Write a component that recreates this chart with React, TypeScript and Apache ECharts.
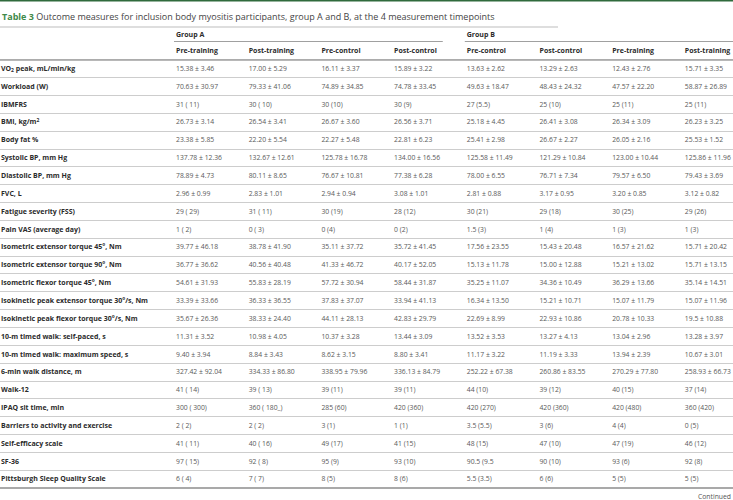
import React, { useEffect, useRef } from "react";
import * as echarts from "echarts";

const FONT = "'Open Sans', 'Noto Sans', sans-serif";

const titleLead = "Table 3";
const titleText = "Outcome measures for inclusion body myositis participants, group A and B, at the 4 measurement timepoints";
const groupLabels = ["Group A", "Group B"];
const columnHeaders = ["Pre-training", "Post-training", "Pre-control", "Post-control", "Pre-control", "Post-control", "Pre-training", "Post-training"];

const rowLabels = [
  "VO{sub|2} peak, mL/min/kg", "Workload (W)", "IBMFRS", "BMI, kg/m{sup|2}", "Body fat %",
  "Systolic BP, mm Hg", "Diastolic BP, mm Hg", "FVC, L", "Fatigue severity (FSS)", "Pain VAS (average day)",
  "Isometric extensor torque 45°, Nm", "Isometric extensor torque 90°, Nm", "Isometric flexor torque 45°, Nm",
  "Isokinetic peak extensor torque 30°/s, Nm", "Isokinetic peak flexor torque 30°/s, Nm",
  "10-m timed walk: self-paced, s", "10-m timed walk: maximum speed, s", "6-min walk distance, m", "Walk-12",
  "IPAQ sit time, min", "Barriers to activity and exercise", "Self-efficacy scale", "SF-36", "Pittsburgh Sleep Quality Scale",
];

const groupAPreTraining = ["15.38 ± 3.46", "70.63 ± 30.97", "31 ( 11)", "26.73 ± 3.14", "23.38 ± 5.85", "137.78 ± 12.36", "78.89 ± 4.73", "2.96 ± 0.99", "29 ( 29)", "1 ( 2)", "39.77 ± 46.18", "36.77 ± 36.62", "54.61 ± 31.93", "33.39 ± 33.66", "35.67 ± 26.36", "11.31 ± 3.52", "9.40 ± 3.94", "327.42 ± 92.04", "41 ( 14)", "300 ( 300)", "2 ( 2)", "41 ( 11)", "97 ( 15)", "6 ( 4)"];
const groupAPostTraining = ["17.00 ± 5.29", "79.33 ± 41.06", "30 ( 10)", "26.54 ± 3.41", "22.20 ± 5.54", "132.67 ± 12.61", "80.11 ± 8.65", "2.83 ± 1.01", "31 ( 11)", "0 ( 3)", "38.78 ± 41.90", "40.56 ± 40.48", "55.83 ± 28.19", "36.33 ± 36.55", "38.33 ± 24.40", "10.98 ± 4.05", "8.84 ± 3.43", "334.33 ± 86.80", "39 ( 13)", "360 ( 180_)", "2 ( 2)", "40 ( 16)", "92 ( 8)", "7 ( 7)"];
const groupAPreControl = ["16.11 ± 3.37", "74.89 ± 34.85", "30 (10)", "26.67 ± 3.60", "22.27 ± 5.48", "125.78 ± 16.78", "76.67 ± 10.81", "2.94 ± 0.94", "30 (19)", "0 (4)", "35.11 ± 37.72", "41.33 ± 46.72", "57.72 ± 30.94", "37.83 ± 37.07", "44.11 ± 28.13", "10.37 ± 3.28", "8.62 ± 3.15", "338.95 ± 79.96", "39 (11)", "285 (60)", "3 (1)", "49 (17)", "95 (9)", "8 (5)"];
const groupAPostControl = ["15.89 ± 3.22", "74.78 ± 33.45", "30 (9)", "26.56 ± 3.71", "22.81 ± 6.23", "134.00 ± 16.56", "77.38 ± 6.28", "3.08 ± 1.01", "28 (12)", "0 (2)", "35.72 ± 41.45", "40.17 ± 52.05", "58.44 ± 31.87", "33.94 ± 41.13", "42.83 ± 29.79", "13.44 ± 3.09", "8.80 ± 3.41", "336.13 ± 84.79", "39 (11)", "420 (360)", "1 (1)", "41 (15)", "93 (10)", "8 (6)"];
const groupBPreControl = ["13.63 ± 2.62", "49.63 ± 18.47", "27 (5.5)", "25.18 ± 4.45", "25.41 ± 2.98", "125.58 ± 11.49", "78.00 ± 6.55", "2.81 ± 0.88", "30 (21)", "1.5 (3)", "17.56 ± 23.55", "15.13 ± 11.78", "35.25 ± 11.07", "16.34 ± 13.50", "22.69 ± 8.99", "13.52 ± 3.53", "11.17 ± 3.22", "252.22 ± 67.38", "44 (10)", "420 (270)", "3.5 (5.5)", "48 (15)", "90.5 (9.5", "5.5 (3.5)"];
const groupBPostControl = ["13.29 ± 2.63", "48.43 ± 24.32", "25 (10)", "26.41 ± 3.08", "26.67 ± 2.27", "121.29 ± 10.84", "76.71 ± 7.34", "3.17 ± 0.95", "29 (18)", "1 (4)", "15.43 ± 20.48", "15.00 ± 12.88", "34.36 ± 10.49", "15.21 ± 10.71", "22.93 ± 10.86", "13.27 ± 4.13", "11.19 ± 3.33", "260.86 ± 83.55", "39 (12)", "420 (360)", "3 (6)", "47 (10)", "90 (10)", "6 (6)"];
const groupBPreTraining = ["12.43 ± 2.76", "47.57 ± 22.20", "25 (11)", "26.34 ± 3.09", "26.05 ± 2.16", "123.00 ± 10.44", "79.57 ± 6.50", "3.20 ± 0.85", "30 (25)", "1 (3)", "16.57 ± 21.62", "15.21 ± 13.02", "36.29 ± 13.66", "15.07 ± 11.79", "20.78 ± 10.33", "13.04 ± 2.96", "13.94 ± 2.39", "270.29 ± 77.80", "40 (15)", "420 (480)", "4 (4)", "47 (19)", "93 (6)", "5 (5)"];
const groupBPostTraining = ["15.71 ± 3.35", "58.87 ± 26.89", "25 (11)", "26.23 ± 3.25", "25.53 ± 1.52", "125.86 ± 11.96", "79.43 ± 3.69", "3.12 ± 0.82", "29 (26)", "1 (3)", "15.71 ± 20.42", "15.71 ± 13.15", "35.14 ± 14.51", "15.07 ± 11.96", "19.5 ± 10.88", "13.28 ± 3.97", "10.67 ± 3.01", "258.93 ± 66.73", "37 (14)", "360 (420)", "0 (5)", "46 (12)", "92 (8)", "5 (5)"];

const columns = [groupAPreTraining, groupAPostTraining, groupAPreControl, groupAPostControl, groupBPreControl, groupBPostControl, groupBPreTraining, groupBPostTraining];
const continuedText = "Continued";

export default function App() {
  const ref = useRef<HTMLDivElement>(null);
  useEffect(() => {
    if (!ref.current) return;
    const chart = echarts.init(ref.current, null, { renderer: "svg" });
    const xMin = -2.421;
    const xMax = 7.662;
    const rows = rowLabels.map((_, i) => String(i));
    const cells: { c: number; r: number; text: string; label: boolean }[] = [];
    rowLabels.forEach((lab, r) => {
      cells.push({ c: xMin, r, text: lab, label: true });
      columns.forEach((col, c) => cells.push({ c, r, text: col[r], label: false }));
    });

    chart.setOption({
      animation: false,
      grid: { left: 0, right: 0, top: 59.5, bottom: 12.1 },
      xAxis: [
        {
          type: "value", min: xMin, max: xMax, position: "bottom",
          axisLine: { show: true, onZero: false, lineStyle: { color: "#a9a9a9", width: 2 } },
          axisTick: { show: false }, axisLabel: { show: false }, splitLine: { show: false },
        },
        {
          type: "value", min: xMin, max: xMax, position: "top",
          axisLine: { show: true, onZero: false, lineStyle: { color: "#a0a0a0", width: 1.5 } },
          axisTick: { show: false }, axisLabel: { show: false }, splitLine: { show: false },
        },
      ],
      yAxis: {
        type: "category", data: rows, inverse: true,
        axisLine: { show: false }, axisTick: { show: false }, axisLabel: { show: false },
        splitLine: { show: true, lineStyle: { color: "#cdcdcd", width: 1 } },
      },
      series: [
        {
          type: "custom",
          xAxisIndex: 0,
          yAxisIndex: 0,
          data: cells.map((d) => [d.c, d.r]),
          renderItem: (params: any, api: any) => {
            const d = cells[params.dataIndex];
            const pt = api.coord([d.c, d.r]);
            return {
              type: "text",
              x: pt[0] + (d.label ? 1 : 0),
              y: pt[1],
              style: d.label
                ? {
                    text: d.text, fill: "#2b2b2b", font: `bold 7px ${FONT}`, verticalAlign: "middle", align: "left",
                    rich: {
                      sub: { fontSize: 5, fontWeight: "bold", fontFamily: FONT, fill: "#2b2b2b", padding: [4, 0, 0, 0] },
                      sup: { fontSize: 5, fontWeight: "bold", fontFamily: FONT, fill: "#2b2b2b", padding: [0, 0, 4, 0] },
                    },
                  }
                : { text: d.text, fill: "#595959", font: `6.8px ${FONT}`, verticalAlign: "middle", align: "left" },
            };
          },
        },
      ],
    });

    const colX = columnHeaders.map((_, i) => chart.convertToPixel({ xAxisIndex: 0 }, i) as number);
    const graphic: any[] = [
      { type: "rect", shape: { x: 0, y: 0, width: 733, height: 1.5 }, style: { fill: "#2f6a3c" } },
      {
        type: "text", x: 2, y: 16,
        style: {
          text: `{b|${titleLead}} ${titleText}`, fill: "#444", font: `9px ${FONT}`, verticalAlign: "middle",
          rich: { b: { fontWeight: "bold", fontSize: 9, fontFamily: FONT, fill: "#3f8a4a" } },
        },
      },
      { type: "line", shape: { x1: 0, y1: 27, x2: 558, y2: 27 }, style: { stroke: "#bdbdbd", lineWidth: 1 } },
      { type: "line", shape: { x1: colX[0] - 2, y1: 41.5, x2: colX[4] - 24, y2: 41.5 }, style: { stroke: "#a0a0a0", lineWidth: 1 } },
      { type: "line", shape: { x1: colX[4] - 2, y1: 41.5, x2: 733, y2: 41.5 }, style: { stroke: "#a0a0a0", lineWidth: 1 } },
      { type: "text", x: colX[0], y: 34, style: { text: groupLabels[0], fill: "#2b2b2b", font: `bold 7px ${FONT}`, verticalAlign: "middle" } },
      { type: "text", x: colX[4], y: 34, style: { text: groupLabels[1], fill: "#2b2b2b", font: `bold 7px ${FONT}`, verticalAlign: "middle" } },
      ...columnHeaders.map((h, i) => ({
        type: "text", x: colX[i], y: 50,
        style: { text: h, fill: "#2b2b2b", font: `bold 7px ${FONT}`, verticalAlign: "middle" },
      })),
      { type: "text", x: 731, y: 496, style: { text: continuedText, fill: "#555", font: `6.8px ${FONT}`, verticalAlign: "middle", align: "right" } },
    ];
    chart.setOption({ graphic });

    return () => chart.dispose();
  }, []);
  return <div ref={ref} style={{ position: "absolute", left: 0, top: 0, width: 733, height: 500, background: "#fff" }} />;
}
